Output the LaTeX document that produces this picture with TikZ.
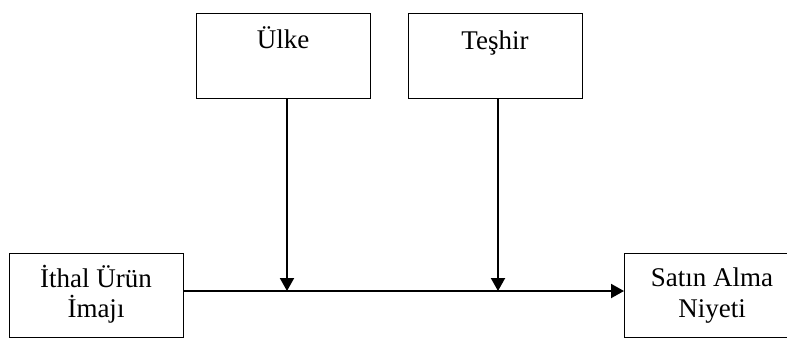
\documentclass[tikz,border=0pt]{standalone}
\usepackage{fontspec}
\setmainfont{Liberation Serif}
\usetikzlibrary{arrows.meta}
\begin{document}
\begin{tikzpicture}[x=1pt,y=-1pt,
  box/.style={draw,line width=1pt,rectangle,anchor=north west,inner sep=0pt},
  lbl/.style={anchor=base,inner sep=0pt,font=\fontsize{27}{31}\selectfont,align=center},
  link/.style={line width=2pt,-{Triangle[length=13pt,width=14pt]}}]
\useasboundingbox (0,0) rectangle (787,338);
% frames
\node[box,minimum width=174pt,minimum height=85pt] (ulke) at (196,13) {};
\node[box,minimum width=174pt,minimum height=85pt] (teshir) at (408,13) {};
\node[box,minimum width=174pt,minimum height=84pt] (ithal) at (9,253) {};
\node[box,minimum width=180pt,minimum height=84pt] (satin) at (624,253) {};
% captions
\node[lbl] (tulke) at (283,48) {Ülke};
\node[lbl] (tteshir) at (495,49) {Teşhir};
\node[lbl] (tithal1) at (96,287.5) {İthal Ürün};
\node[lbl] (tithal2) at (96,317) {İmajı};
\node[lbl] (tsatin1) at (712,286) {Satın Alma};
\node[lbl] (tsatin2) at (712,317) {Niyeti};
% meeting points on the main path
\coordinate (m1) at (287,291);
\coordinate (m2) at (498,291);
% connectors
\draw[link] (ithal.east |- m1) -- (satin.west |- m1);
\draw[link] (ulke.south -| m1) -- (m1);
\draw[link] (teshir.south -| m2) -- (m2);
\end{tikzpicture}
\end{document}
